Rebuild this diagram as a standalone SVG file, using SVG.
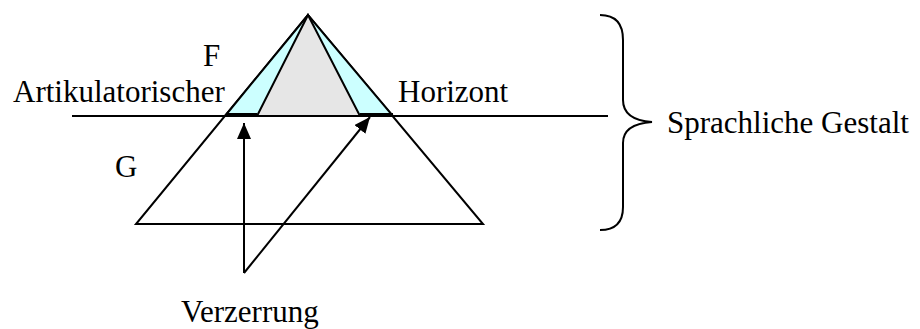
<svg xmlns="http://www.w3.org/2000/svg" width="920" height="329" viewBox="0 0 920 329">
<style>
text{font-family:"Liberation Serif","Times New Roman",serif;font-size:31px;fill:#000}
.ln{stroke:#000;stroke-width:2;fill:none}
</style>
<defs>
<marker id="ah" viewBox="0 0 16 14" refX="16" refY="7" markerWidth="16" markerHeight="14" markerUnits="userSpaceOnUse" orient="auto">
<path d="M0,0 L16,7 L0,14 Z" fill="#000"/>
</marker>
</defs>
<rect width="920" height="329" fill="#fff"/>
<g id="pyramid">
<polygon points="308,15 136,224 483,224" class="ln"/>
<polygon points="308,15 225,116 393,116" fill="#ccffff" stroke="#000" stroke-width="2"/>
<polygon points="308,15 257,116 360,116" fill="#e6e6e6" stroke="#000" stroke-width="2"/>
<line x1="72" y1="116" x2="608" y2="116" class="ln"/>
<line x1="226" y1="115" x2="257" y2="115" stroke="#000" stroke-width="4"/>
<line x1="360" y1="115" x2="393" y2="115" stroke="#000" stroke-width="4"/>
</g>
<g id="brace">
<path d="M600,15 Q623,15 623,40 L623,100 Q623,120 652,122 Q623,124 623,143 L623,207 Q623,230 600,230" class="ln"/>
</g>
<g id="connectors">
<line x1="244" y1="273" x2="244" y2="123" class="ln" marker-end="url(#ah)"/>
<line x1="244" y1="273" x2="370" y2="117" class="ln" marker-end="url(#ah)"/>
</g>
<g id="labels">
<text x="203" y="66">F</text>
<text x="13" y="102">Artikulatorischer</text>
<text x="398" y="102">Horizont</text>
<text x="115" y="177">G</text>
<text x="667" y="133">Sprachliche Gestalt</text>
<text x="181" y="322">Verzerrung</text>
</g>
</svg>
